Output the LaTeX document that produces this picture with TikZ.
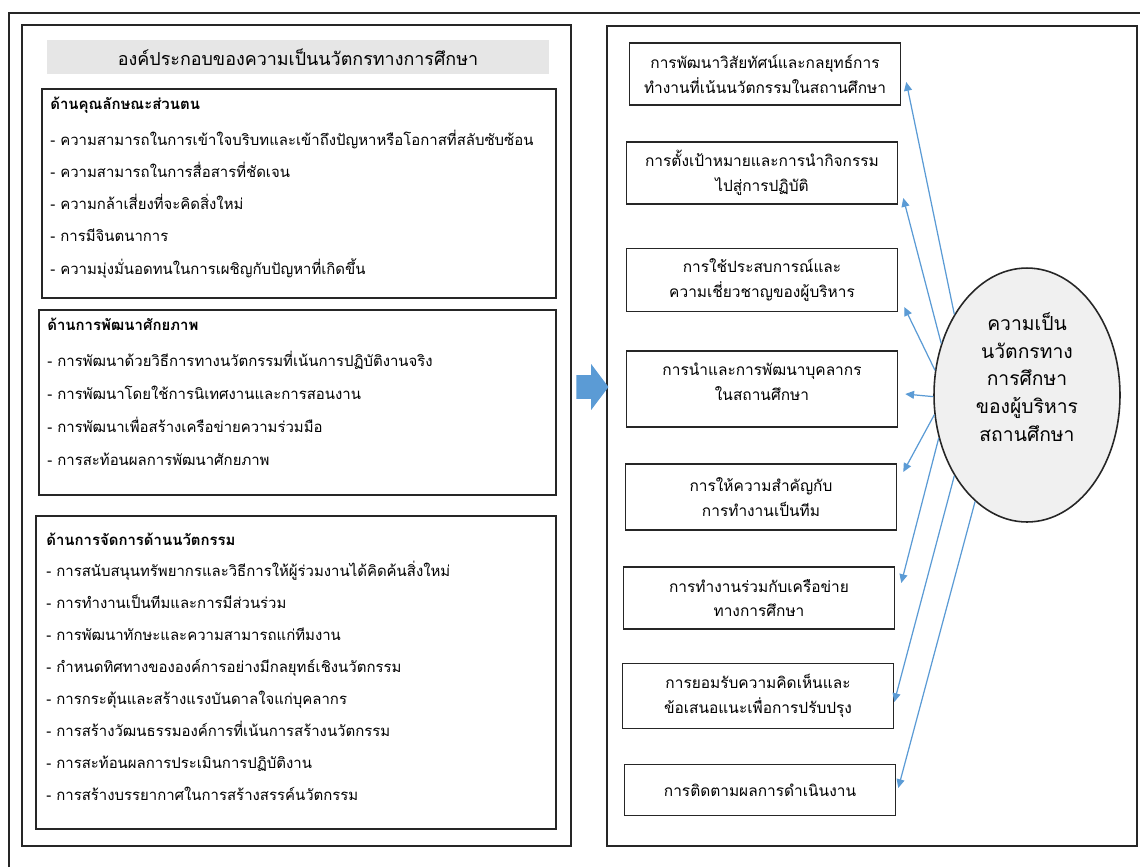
\documentclass[tikz,border=0pt]{standalone}
\usepackage{fontspec}
\newfontfamily\thaifont[Script=Thai]{Loma}
\usetikzlibrary{shapes.geometric,shapes.arrows,arrows.meta}
\definecolor{linkblue}{RGB}{91,155,213}
\definecolor{bargray}{RGB}{230,230,230}
\definecolor{ovalgray}{RGB}{240,240,240}
\tikzset{
  panel/.style={draw=black!85,line width=0.9pt},
  item/.style={anchor=base west,inner sep=0pt,font=\thaifont\fontsize{8.5}{12}\selectfont},
  itemhead/.style={item,font=\thaifont\bfseries\fontsize{8.5}{12}\selectfont},
  goalbox/.style={draw=black!85,line width=0.9pt,minimum width=5.42cm,align=center,
    inner sep=2pt,font=\thaifont\fontsize{8.8}{14}\selectfont},
  link/.style={draw=linkblue,line width=0.7pt,-{Triangle[length=5pt,width=4.5pt]}}
}
\begin{document}
\begin{tikzpicture}[x=0.02cm,y=-0.02cm]
\useasboundingbox (0,0) rectangle (1140,867);
\draw[panel] (9,867) |- (1140,13);
\draw[panel] (22,25) rectangle (571,846);
\draw[panel] (607,26) rectangle (1137,846);

% left side
\node[fill=bargray,minimum width=10.04cm,minimum height=0.68cm,
  font=\thaifont\fontsize{10.2}{12}\selectfont] (title) at (298,57) {องค์ประกอบของความเป็นนวัตกรทางการศึกษา};

\draw[panel] (42,89) rectangle (556,298);
\node[itemhead] (h1) at (50,109) {ด้านคุณลักษณะส่วนตน};
\foreach \t [count=\i] in {ความสามารถในการเข้าใจบริบทและเข้าถึงปัญหาหรือโอกาสที่สลับซับซ้อน,
  ความสามารถในการสื่อสารที่ชัดเจน,ความกล้าเสี่ยงที่จะคิดสิ่งใหม่,การมีจินตนาการ,
  ความมุ่งมั่นอดทนในการเผชิญกับปัญหาที่เกิดขึ้น}
  \node[item] (a\i) at (50,{145+(\i-1)*32.3}) {- \t};

\draw[panel] (39,310) rectangle (556,495);
\node[itemhead] (h2) at (47,330) {ด้านการพัฒนาศักยภาพ};
\foreach \t [count=\i] in {การพัฒนาด้วยวิธีการทางนวัตกรรมที่เน้นการปฏิบัติงานจริง,
  การพัฒนาโดยใช้การนิเทศงานและการสอนงาน,การพัฒนาเพื่อสร้างเครือข่ายความร่วมมือ,
  การสะท้อนผลการพัฒนาศักยภาพ}
  \node[item] (b\i) at (47,{366+(\i-1)*33}) {- \t};

\draw[panel] (36,516) rectangle (556,829);
\node[itemhead] (h3) at (46,545) {ด้านการจัดการด้านนวัตกรรม};
\foreach \t [count=\i] in {การสนับสนุนทรัพยากรและวิธีการให้ผู้ร่วมงานได้คิดค้นสิ่งใหม่,
  การทำงานเป็นทีมและการมีส่วนร่วม,การพัฒนาทักษะและความสามารถแก่ทีมงาน,
  กำหนดทิศทางขององค์การอย่างมีกลยุทธ์เชิงนวัตกรรม,การกระตุ้นและสร้างแรงบันดาลใจแก่บุคลากร,
  การสร้างวัฒนธรรมองค์การที่เน้นการสร้างนวัตกรรม,การสะท้อนผลการประเมินการปฏิบัติงาน,
  การสร้างบรรยากาศในการสร้างสรรค์นวัตกรรม}
  \node[item] (c\i) at (46,{576+(\i-1)*32.1}) {- \t};

\node[single arrow,fill=linkblue,inner xsep=0pt,inner ysep=0.23cm,minimum height=0.64cm,
  single arrow head extend=0.22cm,single arrow tip angle=106] (bigarrow) at (588,387) {};

% right side
\node[goalbox,minimum height=1.24cm] (r1) at (765,74) {การพัฒนาวิสัยทัศน์และกลยุทธ์การ\\ทำงานที่เน้นนวัตกรรมในสถานศึกษา};
\node[goalbox,minimum height=1.24cm] (r2) at (762,173) {การตั้งเป้าหมายและการนำกิจกรรม\\ไปสู่การปฏิบัติ};
\node[goalbox,minimum height=1.26cm] (r3) at (762,280) {การใช้ประสบการณ์และ\\ความเชี่ยวชาญของผู้บริหาร};
\node[goalbox,minimum height=1.52cm] (r4) at (762,389) {การนำและการพัฒนาบุคลากร\\ในสถานศึกษา\\[-6pt]\mbox{}};
\node[goalbox,minimum height=1.32cm] (r5) at (761,497) {การให้ความสำคัญกับ\\การทำงานเป็นทีม};
\node[goalbox,minimum height=1.24cm] (r6) at (759,598) {การทำงานร่วมกับเครือข่าย\\ทางการศึกษา};
\node[goalbox,minimum height=1.30cm] (r7) at (758,696) {การยอมรับความคิดเห็นและ\\ข้อเสนอแนะเพื่อการปรับปรุง};
\node[goalbox,minimum height=1.02cm] (r8) at (760,790) {การติดตามผลการดำเนินงาน};

\node[ellipse,draw=black!85,line width=0.9pt,fill=ovalgray,minimum width=3.72cm,
  minimum height=5.08cm] (ell) at (1027,395) {};
\node[align=center,font=\thaifont\fontsize{11}{15.8}\selectfont] (elltext) at (1027,377)
  {ความเป็น\\นวัตกรทาง\\การศึกษา\\ของผู้บริหาร\\สถานศึกษา};

\draw[link] (ell.132) -- ([shift={(5,8)}]r1.east);
\draw[link] (ell.149) -- ([shift={(5,25)}]r2.east);
\draw[link] (ell.165) -- ([shift={(6,27)}]r3.east);
\draw[link] (ell.181) -- ([shift={(7,5)}]r4.east);
\draw[link] (ell.192) -- ([shift={(6,-25)}]r5.east);
\draw[link] (ell.206) -- ([shift={(6,-15)}]r6.east);
\draw[link] (ell.228) -- ([shift={(0,6)}]r7.east);
\draw[link] (ell.244) -- ([shift={(2,-2)}]r8.east);
\end{tikzpicture}
\end{document}
